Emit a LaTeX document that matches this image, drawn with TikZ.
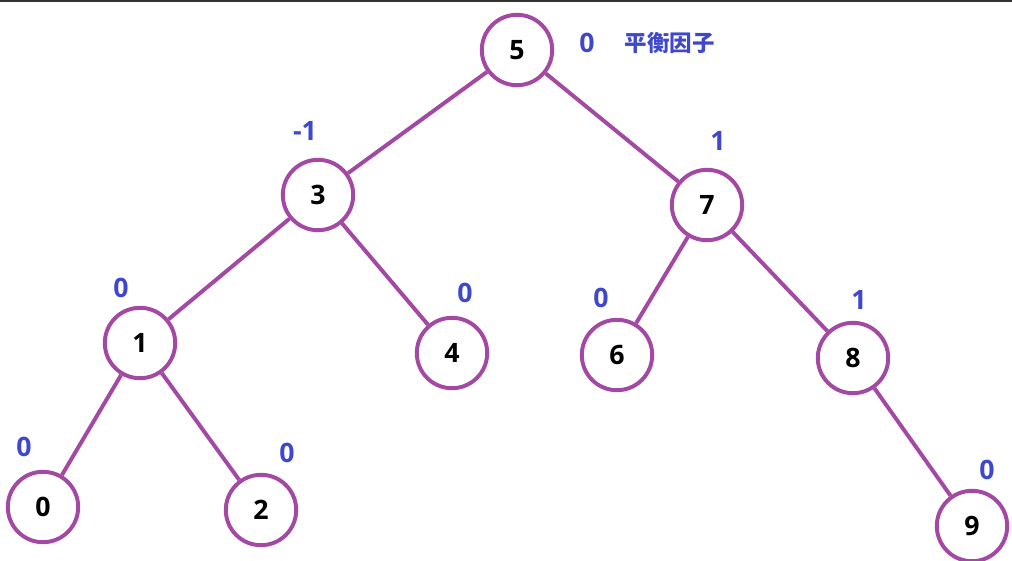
\documentclass[tikz,border=0pt]{standalone}
\usepackage{fontspec}
\setmainfont{Open Sans}
\newfontfamily\cjk{Noto Sans CJK SC}
\usetikzlibrary{positioning}
\definecolor{treepurple}{RGB}{163,73,164}
\definecolor{bfblue}{RGB}{63,72,204}
\begin{document}
\begin{tikzpicture}[x=0.025cm,y=-0.025cm,
        key/.style={circle,draw=treepurple,line width=2.8pt,fill=white,
          minimum size=1.76cm,inner sep=0pt,
          font=\fontsize{19}{22}\selectfont\bfseries},
        bf/.style={text=bfblue,font=\fontsize{19}{22}\selectfont\bfseries},
        link/.style={draw=treepurple,line width=2.8pt}]
        \useasboundingbox (0,0) rectangle (1012,560);
        \draw [black!80,line width=1.5pt] (0,1) -- (1012,1);
        %
        \node [key] (n5) at (517,50) {5};
        \node [key] (n3) at (318,195) {3};
        \node [key] (n7) at (707,205) {7};
        \node [key] (n1) at (140,343) {1};
        \node [key] (n4) at (452,353) {4};
        \node [key] (n6) at (617,355) {6};
        \node [key] (n8) at (853,358) {8};
        \node [key] (n0) at (43,507) {0};
        \node [key] (n2) at (261,510) {2};
        \node [key] (n9) at (972,526) {9};
        %
        \draw [link] (n5) -- (n3);
        \draw [link] (n5) -- (n7);
        \draw [link] (n3) -- (n1);
        \draw [link] (n3) -- (n4);
        \draw [link] (n7) -- (n6);
        \draw [link] (n7) -- (n8);
        \draw [link] (n1) -- (n0);
        \draw [link] (n1) -- (n2);
        \draw [link] (n8) -- (n9);
        %
        \node [bf] (b5) at (587,43) {0};
        \node [text=bfblue,font=\cjk\fontsize{16}{18}\selectfont\bfseries,
          right=0.5cm of b5] (title) {平衡因子};
        \node [bf] (b3) at (305,131) {-1};
        \node [bf] (b7) at (718,141) {1};
        \node [bf] (b1) at (121,288) {0};
        \node [bf] (b4) at (465,293) {0};
        \node [bf] (b6) at (601,298) {0};
        \node [bf] (b8) at (859,300) {1};
        \node [bf] (b0) at (24,447) {0};
        \node [bf] (b2) at (287,453) {0};
        \node [bf] (b9) at (987,470) {0};
\end{tikzpicture}
\end{document}
